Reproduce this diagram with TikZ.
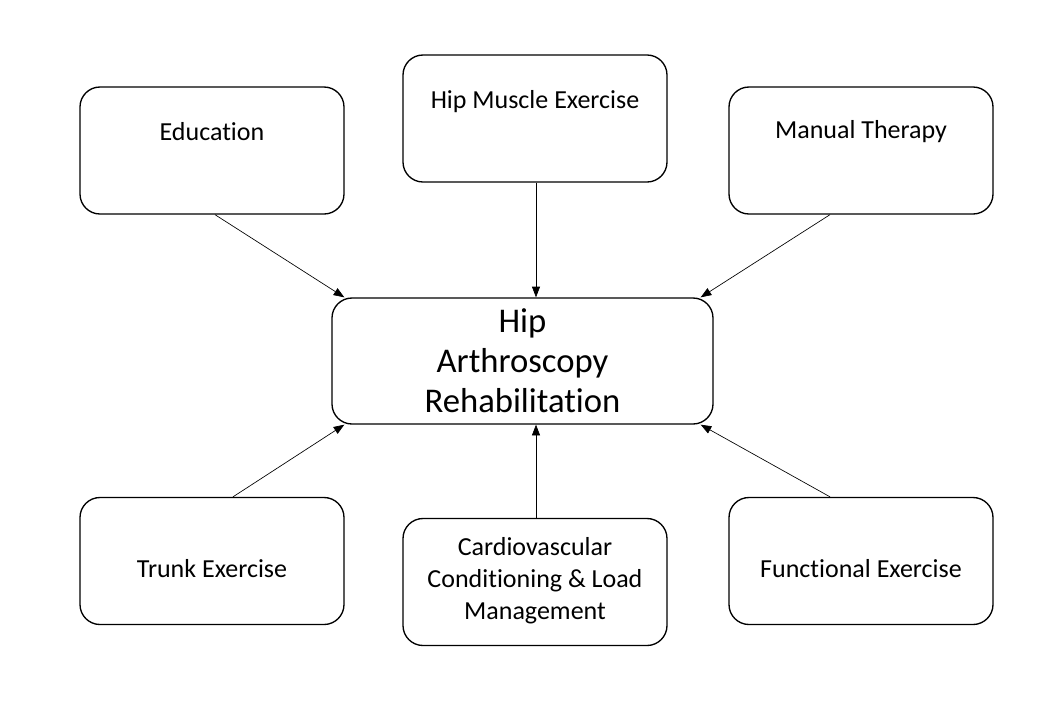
\documentclass[tikz,border=0pt]{standalone}
\usepackage{fontspec}
\setmainfont{Carlito}[Ligatures=NoCommon]
\usetikzlibrary{arrows.meta,calc}
\tikzset{
    box/.style={draw, line width=1pt, rounded corners=15pt, minimum width=198pt, minimum height=95.25pt, inner sep=0pt},
    boxtext/.style={align=center, font=\fontsize{19.5}{24}\selectfont, inner sep=0pt},
    hubtext/.style={align=center, font=\fontsize{26}{30}\selectfont, inner sep=0pt},
    feed/.style={line width=0.5pt, -{Triangle[length=8pt,width=6pt]}}
}

\begin{document}
\begin{tikzpicture}[x=0.75pt, y=-0.75pt]
    \useasboundingbox (0,0) rectangle (1043,704);
    % Boxes
    \node[box, minimum width=285.75pt, minimum height=94.5pt] (hub) at (522.5,361) {};
    \node[box] (edu) at (212,150.5) {};
    \node[box] (hipm) at (535,118.5) {};
    \node[box] (manual) at (861,150.5) {};
    \node[box] (trunk) at (212,561) {};
    \node[box] (cardio) at (535,582) {};
    \node[box] (func) at (861,561) {};
    % Texts
    \node[hubtext] (hubtxt) at (hub.center) {Hip\\Arthroscopy\\Rehabilitation};
    \node[boxtext] (edutxt) at (212,132) {Education};
    \node[boxtext] (hipmtxt) at (535,102) {Hip Muscle Exercise};
    \node[boxtext] (manualtxt) at (861,132) {Manual Therapy};
    \node[boxtext] (trunktxt) at (212,569) {Trunk Exercise};
    \node[boxtext] (cardiotxt) at (535,581) {Cardiovascular\\Conditioning \& Load\\Management};
    \node[boxtext] (functxt) at (861,569) {Functional Exercise};
    % Arrows
    \draw[feed] ($(edu.south)+(3,0)$) -- ($(hub.north west)+(13,0)$);
    \draw[feed] ($(hipm.south)+(1,0)$) -- ($(hub.north)+(13.5,0)$);
    \draw[feed] ($(manual.south)+(-31,0)$) -- ($(hub.north east)+(-13,0)$);
    \draw[feed] ($(trunk.north)+(21,0)$) -- ($(hub.south west)+(13,0)$);
    \draw[feed] ($(cardio.north)+(1,0)$) -- ($(hub.south)+(13.5,0)$);
    \draw[feed] ($(func.north)+(-31,0)$) -- ($(hub.south east)+(-13,0)$);
\end{tikzpicture}
\end{document}
